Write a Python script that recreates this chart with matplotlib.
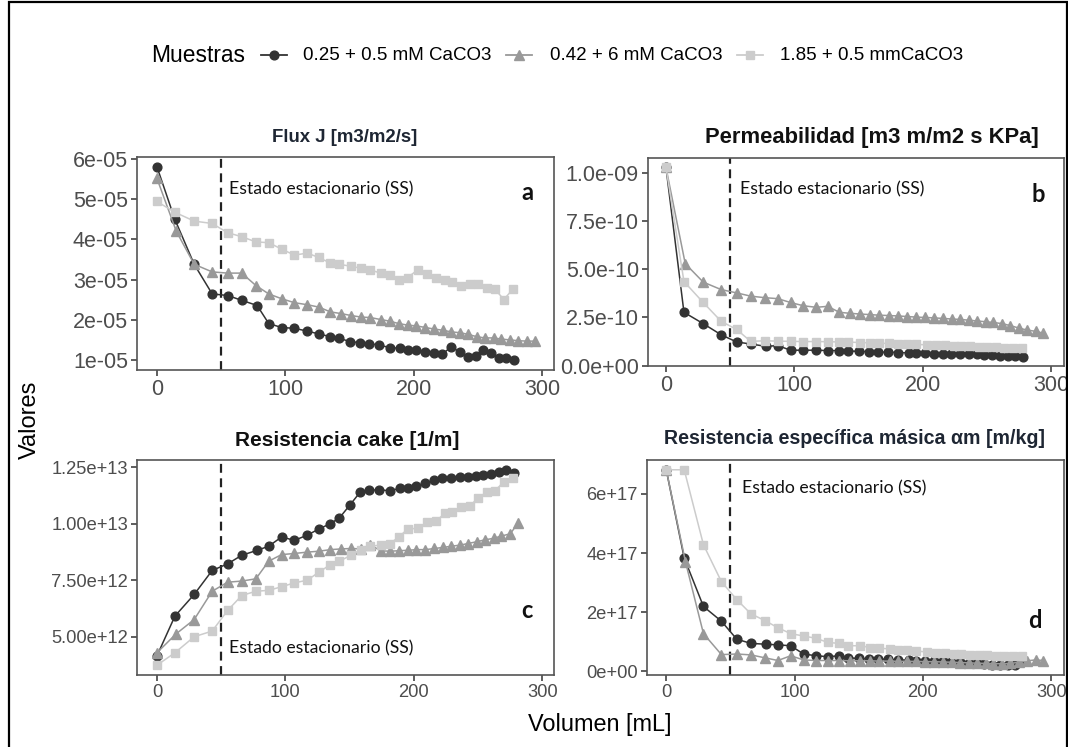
import numpy as np
import matplotlib
matplotlib.use("Agg")
import matplotlib.pyplot as plt
from matplotlib.lines import Line2D
from matplotlib.patches import Rectangle

W, H = 1068, 747

# volumes (mL) for each sample
vol_black = [0, 14, 29, 43, 55, 66, 78, 87, 97, 107, 117, 126, 135, 142, 150, 158, 165,
             173, 181, 189, 195, 202, 209, 216, 222, 229, 236, 242, 248, 254, 260, 266, 272, 278]
vol_tri = [0, 15, 29, 43, 55, 66, 77, 87, 97, 107, 117, 126, 135, 143, 151, 159, 166, 174,
           181, 188, 195, 202, 209, 216, 223, 229, 236, 242, 249, 255, 262, 268, 275, 281, 288, 294]
vol_sq = [0, 14, 29, 43, 55, 66, 77, 87, 97, 107, 117, 126, 135, 142, 151, 159, 166, 174,
          181, 188, 195, 203, 210, 217, 224, 230, 237, 244, 250, 257, 263, 270, 277]

# a) Flux J (x1e-5)
flux_black = [5.82, 4.5, 3.38, 2.64, 2.6, 2.48, 2.35, 1.9, 1.8, 1.78, 1.71, 1.64, 1.57, 1.53,
              1.45, 1.42, 1.40, 1.36, 1.30, 1.28, 1.25, 1.23, 1.20, 1.17, 1.13, 1.32, 1.18,
              1.06, 1.10, 1.23, 1.16, 1.05, 1.03, 0.98]
flux_tri = [5.53, 4.21, 3.38, 3.19, 3.16, 3.16, 2.85, 2.64, 2.52, 2.42, 2.37, 2.31, 2.19, 2.15,
            2.10, 2.06, 2.05, 2.00, 1.96, 1.90, 1.86, 1.84, 1.80, 1.76, 1.73, 1.69, 1.67, 1.63,
            1.57, 1.54, 1.54, 1.51, 1.49, 1.47, 1.46, 1.46]
flux_sq = [4.95, 4.68, 4.46, 4.40, 4.17, 4.07, 3.94, 3.92, 3.76, 3.61, 3.66, 3.55, 3.41, 3.38,
           3.33, 3.28, 3.24, 3.16, 3.11, 2.99, 3.05, 3.24, 3.14, 3.05, 3.00, 2.95, 2.85, 2.89,
           2.89, 2.78, 2.76, 2.50, 2.76]

# b) Permeabilidad (x1e-10)
perm_black = [10.3, 2.77, 2.18, 1.60, 1.23, 1.12, 1.0, 1.04, 0.80, 0.80, 0.80, 0.78, 0.78, 0.76,
              0.74, 0.72, 0.70, 0.70, 0.68, 0.66, 0.65, 0.63, 0.62, 0.60, 0.60, 0.60, 0.58,
              0.58, 0.56, 0.55, 0.52, 0.50, 0.48, 0.47]
perm_tri = [10.3, 5.3, 4.34, 3.95, 3.78, 3.61, 3.53, 3.48, 3.28, 3.11, 3.03, 3.08, 2.77, 2.72,
            2.68, 2.65, 2.62, 2.6, 2.58, 2.55, 2.52, 2.5, 2.48, 2.45, 2.42, 2.4, 2.36, 2.32,
            2.28, 2.24, 2.18, 2.08, 1.95, 1.85, 1.78, 1.68]
perm_sq = [10.3, 4.37, 3.28, 2.3, 1.88, 1.26, 1.29, 1.27, 1.26, 1.25, 1.25, 1.24, 1.23, 1.22,
           1.2, 1.18, 1.16, 1.15, 1.13, 1.12, 1.10, 1.08, 1.07, 1.05, 1.03, 1.01, 1.0, 0.98,
           0.96, 0.95, 0.93, 0.92, 0.92]

# c) Resistencia cake (x1e12)
cake_black = [4.15, 5.91, 6.87, 7.93, 8.22, 8.60, 8.82, 9.0, 9.41, 9.26, 9.49, 9.76, 10.0, 10.25,
              10.81, 11.38, 11.47, 11.5, 11.45, 11.56, 11.56, 11.65, 11.79, 11.91, 12.03, 12.03,
              12.04, 12.04, 12.09, 12.16, 12.2, 12.26, 12.38, 12.24]
cake_tri = [4.29, 5.13, 5.76, 7.01, 7.41, 7.46, 7.56, 8.34, 8.63, 8.68, 8.74, 8.78, 8.85, 8.88,
            8.9, 8.88, 9.07, 8.8, 8.78, 8.8, 8.82, 8.85, 8.85, 8.9, 8.95, 9.0, 9.05, 9.12, 9.2,
            9.28, 9.35, 9.45, 9.55, 10.03]
cake_sq = [3.74, 4.29, 5.0, 5.25, 6.16, 6.82, 7.01, 7.05, 7.21, 7.38, 7.5, 7.85, 8.19, 8.34,
           8.6, 8.85, 9.0, 9.05, 9.1, 9.4, 9.75, 9.8, 10.05, 10.1, 10.45, 10.5, 10.75, 10.8,
           11.15, 11.4, 11.45, 11.85, 12.0]

# d) Resistencia especifica masica (x1e17)
alpha_black = [6.82, 3.83, 2.19, 1.69, 1.08, 0.94, 0.91, 0.89, 0.86, 0.58, 0.52, 0.49, 0.52,
               0.45, 0.43, 0.42, 0.41, 0.40, 0.38, 0.37, 0.36, 0.35, 0.34, 0.33, 0.32, 0.30,
               0.28, 0.26, 0.24, 0.22, 0.21, 0.21, 0.20, 0.35]
alpha_tri = [6.82, 3.7, 1.27, 0.56, 0.58, 0.55, 0.45, 0.36, 0.52, 0.38, 0.36, 0.36, 0.36, 0.35,
             0.35, 0.35, 0.34, 0.34, 0.33, 0.33, 0.33, 0.32, 0.32, 0.31, 0.3, 0.29, 0.28, 0.27,
             0.26, 0.25, 0.25, 0.26, 0.3, 0.35, 0.38, 0.36]
alpha_sq = [6.82, 6.82, 4.28, 3.03, 2.42, 1.94, 1.71, 1.47, 1.27, 1.19, 1.11, 0.97, 0.94, 0.86,
            0.86, 0.8, 0.78, 0.75, 0.72, 0.7, 0.68, 0.65, 0.62, 0.6, 0.58, 0.57, 0.55, 0.54,
            0.53, 0.52, 0.51, 0.51, 0.52]

labels = ["0.25 + 0.5 mM CaCO3", "0.42 + 6 mM CaCO3", "1.85 + 0.5 mmCaCO3"]
colors = ["#333333", "#999999", "#cccccc"]
markers = ["o", "^", "s"]
msizes = [6.3, 7.0, 6.3]

panels = [
    dict(title="Flux J [m3/m2/s]", scale=1e-5, data=[flux_black, flux_tri, flux_sq],
         yticks=[1e-5, 2e-5, 3e-5, 4e-5, 5e-5, 6e-5],
         yticklabels=["1e-05", "2e-05", "3e-05", "4e-05", "5e-05", "6e-05"],
         box=(137, 157, 554, 370), xlim=(-15.5, 309), ticksize=15.5,
         tpos=(345, 137), tsize=13.4, tcolor="#1e2633",
         letter="a", lpos=(527, 193), sspos=(229, 189)),
    dict(title="Permeabilidad [m3 m/m2 s KPa]", scale=1e-10, data=[perm_black, perm_tri, perm_sq],
         yticks=[0, 2.5e-10, 5e-10, 7.5e-10, 1e-9],
         yticklabels=["0.0e+00", "2.5e-10", "5.0e-10", "7.5e-10", "1.0e-09"],
         box=(648, 158, 1064, 366), xlim=(-14, 310), ticksize=15.5,
         tpos=(872, 138), tsize=15.8, tcolor="#111111",
         letter="b", lpos=(1038, 194), sspos=(740, 189)),
    dict(title="Resistencia cake [1/m]", scale=1e12, data=[cake_black, cake_tri, cake_sq],
         yticks=[5e12, 7.5e12, 1e13, 1.25e13],
         yticklabels=["5.00e+12", "7.50e+12", "1.00e+13", "1.25e+13"],
         box=(137, 460, 554, 675), xlim=(-15.5, 309), ticksize=13.2,
         tpos=(347, 440), tsize=15.0, tcolor="#111111",
         letter="c", lpos=(527, 611), sspos=(229, 648)),
    dict(title="Resistencia específica másica αm [m/kg]", scale=1e17,
         data=[alpha_black, alpha_tri, alpha_sq],
         yticks=[0, 2e17, 4e17, 6e17],
         yticklabels=["0e+00", "2e+17", "4e+17", "6e+17"],
         box=(647, 460, 1064, 675), xlim=(-15, 310), ticksize=13.2,
         tpos=(855, 438), tsize=14.1, tcolor="#1e2633",
         letter="d", lpos=(1035, 620), sspos=(742, 488)),
]
vols = [vol_black, vol_tri, vol_sq]

base_font = ["Liberation Sans", "DejaVu Sans"]
note_font = ["Lato", "DejaVu Sans"]
plt.rcParams["font.family"] = base_font


def fx(x):
    return x / W


def fy(y):
    return 1 - y / H


fig = plt.figure(figsize=(W / 100, H / 100), dpi=100)

for p in panels:
    l, t, r, b = p["box"]
    ax = fig.add_axes([fx(l), fy(b), (r - l) / W, (b - t) / H])
    ymin, ymax = np.inf, -np.inf
    for vol, vals, col, mk, ms in zip(vols, p["data"], colors, markers, msizes):
        y = np.array(vals) * p["scale"]
        x = vol[:len(y)]
        ax.plot(x, y, color=col, marker=mk, markersize=ms, linewidth=1.1, zorder=3)
        ymin, ymax = min(ymin, y.min()), max(ymax, y.max())
    pad = 0.05 * (ymax - ymin)
    ax.set_ylim(ymin - pad, ymax + pad)
    ax.set_xlim(*p["xlim"])
    ax.axvline(50, color="#222222", linestyle=(0, (4, 2.5)), linewidth=1.6, zorder=2)
    ax.set_xticks([0, 100, 200, 300])
    ax.set_yticks(p["yticks"])
    ax.set_yticklabels(p["yticklabels"])
    ax.tick_params(labelcolor="#4d4d4d", color="#333333", labelsize=p["ticksize"],
                   length=4, width=1.1, pad=2.5)
    for s in ax.spines.values():
        s.set_color("#555555")
        s.set_linewidth(1.2)
    fig.text(fx(p["tpos"][0]), fy(p["tpos"][1]), p["title"], fontsize=p["tsize"],
             fontweight="bold", color=p["tcolor"], ha="center", va="center")
    fig.text(fx(p["sspos"][0]), fy(p["sspos"][1]), "Estado estacionario (SS)",
             fontsize=12.7, family=note_font, color="#111111", ha="left", va="center")
    fig.text(fx(p["lpos"][0]), fy(p["lpos"][1]), p["letter"], fontsize=17,
             family=note_font, fontweight="bold", color="#111111", ha="center", va="center")

fig.text(fx(30), fy(420), "Valores", rotation=90, fontsize=17, ha="center", va="center")
fig.text(fx(600), fy(724), "Volumen [mL]", fontsize=16.9, ha="center", va="center")

# legend, laid out by hand like the ggplot guide
leg_y = 55
fig.text(fx(151), fy(leg_y), "Muestras", fontsize=16.4, ha="left", va="center")
key_x = [273.5, 519, 749.5]
text_x = [303, 550, 780]
for kx, tx, lab, col, mk, ms in zip(key_x, text_x, labels, colors, markers, msizes):
    fig.add_artist(Line2D([fx(kx - 13), fx(kx + 13)], [fy(leg_y), fy(leg_y)],
                          transform=fig.transFigure, color=col, linewidth=1.3))
    fig.add_artist(Line2D([fx(kx)], [fy(leg_y)], transform=fig.transFigure, color=col,
                          marker=mk, markersize=ms, linestyle="none"))
    fig.text(fx(tx), fy(leg_y), lab, fontsize=13.5, ha="left", va="center")

fig.patches.append(Rectangle((fx(9), -0.02), (1066.5 - 9) / W, 1.02 - 2 / H,
                             transform=fig.transFigure, fill=False,
                             edgecolor="black", linewidth=1.6))

fig.savefig("out.png", dpi=100)
